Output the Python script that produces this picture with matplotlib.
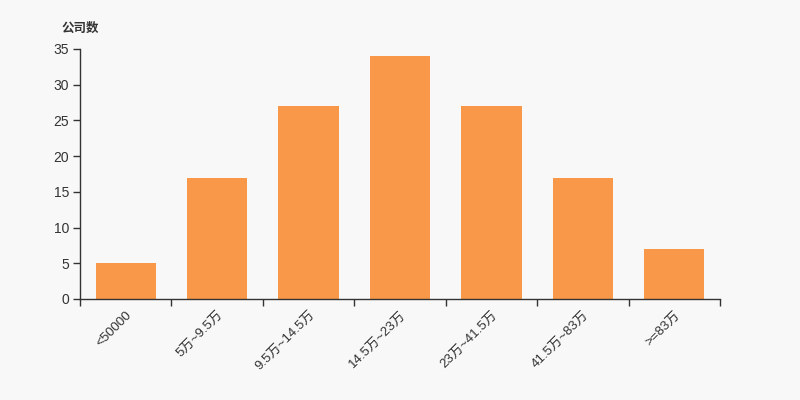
import matplotlib
matplotlib.use('Agg')
import numpy as np
from matplotlib import pyplot as plt

plt.rcParams['font.family'] = ['Liberation Sans', 'Noto Sans CJK SC', 'DejaVu Sans']

# 数据
categories = ['<50000', '5万~9.5万', '9.5万~14.5万', '14.5万~23万', '23万~41.5万', '41.5万~83万', '>=83万']
counts = [5, 17, 27, 34, 27, 17, 7]
y_ticks = [0, 5, 10, 15, 20, 25, 30, 35]

bg = '#f8f8f8'
bar_color = '#f99848'
ink = '#333333'

fig = plt.figure(figsize=(8, 4), dpi=100, facecolor=bg)
ax = fig.add_axes([0.1, 0.2525, 0.8, 0.625], facecolor=bg)

x = np.arange(len(categories))
ax.bar(x, counts, width=0.66, color=bar_color)

ax.set_xlim(-0.5, len(categories) - 0.5)
ax.set_ylim(0, 35)
ax.set_yticks(y_ticks)

ax.set_xticks(x)
ax.set_xticklabels(categories, rotation=45, ha='right', rotation_mode='anchor', fontsize=9.5, color=ink)
ax.tick_params(axis='x', which='major', length=0, pad=7)
ax.set_xticks(np.arange(-0.5, len(categories)), minor=True)
ax.tick_params(axis='x', which='minor', length=5, color=ink, width=1)
ax.tick_params(axis='y', length=5, color=ink, width=1, labelsize=10, labelcolor=ink, pad=3)

for s in ['top', 'right']:
    ax.spines[s].set_visible(False)
for s in ['left', 'bottom']:
    ax.spines[s].set_color(ink)
    ax.spines[s].set_linewidth(1)

fig.text(0.0775, 0.93, '公司数', family=['Noto Sans CJK SC'], fontsize=9,
         fontweight='bold', color=ink, ha='left', va='center')

fig.savefig('out.png', dpi=100, facecolor=bg)
